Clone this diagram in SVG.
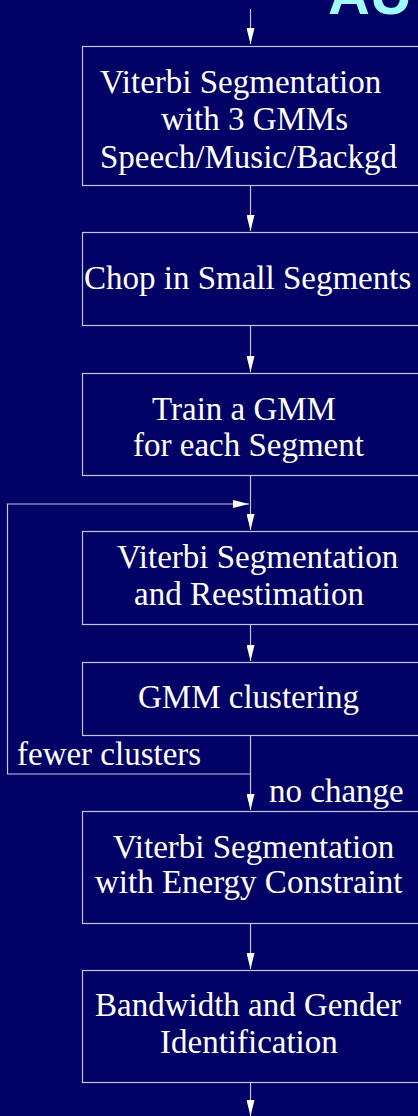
<svg xmlns="http://www.w3.org/2000/svg" width="418" height="1116" viewBox="0 0 418 1116">
  <style>
    .box { fill: none; stroke: #c4c4e4; stroke-width: 1.2; }
    .lbl { fill: #ffffff; font-family: "Times New Roman", "Liberation Serif", Times, "DejaVu Serif", serif; font-size: 33px; }
    .wire { fill: none; stroke: #c4c4e4; stroke-width: 1.2; }
    .title { fill: #a0fcff; font-family: "Liberation Sans", Arial, sans-serif; font-weight: bold; font-size: 58px; }
  </style>
  <defs>
    <marker id="head" viewBox="0 0 16 8" refX="16" refY="4" markerWidth="16" markerHeight="8" markerUnits="userSpaceOnUse" orient="auto">
      <path d="M0,0 L16,4 L0,8 Z" fill="#ffffff"/>
    </marker>
  </defs>

  <rect width="418" height="1116" fill="#020266"/>

  <text class="title" x="328" y="14">AU</text>

  <g id="connectors">
    <line class="wire" x1="250.5" y1="9" x2="250.5" y2="44" marker-end="url(#head)"/>
    <line class="wire" x1="250.5" y1="186" x2="250.5" y2="231" marker-end="url(#head)"/>
    <line class="wire" x1="250.5" y1="326" x2="250.5" y2="372" marker-end="url(#head)"/>
    <line class="wire" x1="250.5" y1="476" x2="250.5" y2="530" marker-end="url(#head)"/>
    <line class="wire" x1="250.5" y1="625" x2="250.5" y2="661" marker-end="url(#head)"/>
    <line class="wire" x1="250.5" y1="736" x2="250.5" y2="810" marker-end="url(#head)"/>
    <line class="wire" x1="250.5" y1="924" x2="250.5" y2="969" marker-end="url(#head)"/>
    <line class="wire" x1="250.5" y1="1083" x2="250.5" y2="1116" marker-end="url(#head)"/>
    <!-- loop back for another clustering pass -->
    <polyline class="wire" points="250.5,774 7.5,774 7.5,504 249,504" marker-end="url(#head)"/>
    <text class="lbl" x="17" y="765">fewer clusters</text>
    <text class="lbl" x="269" y="802">no change</text>
  </g>

  <g id="viterbi-gmm3">
    <rect class="box" x="82.5" y="46.5" width="345" height="139"/>
    <text class="lbl" x="100" y="93">Viterbi Segmentation</text>
    <text class="lbl" x="161" y="130">with 3 GMMs</text>
    <text class="lbl" x="100" y="168">Speech/Music/Backgd</text>
  </g>

  <g id="chop">
    <rect class="box" x="82.5" y="232.5" width="345" height="93"/>
    <text class="lbl" x="84" y="289">Chop in Small Segments</text>
  </g>

  <g id="train-gmm">
    <rect class="box" x="82.5" y="373.5" width="345" height="102"/>
    <text class="lbl" x="152" y="420">Train a GMM</text>
    <text class="lbl" x="133" y="456">for each Segment</text>
  </g>

  <g id="viterbi-reestimation">
    <rect class="box" x="82.5" y="531.5" width="345" height="93"/>
    <text class="lbl" x="117" y="568">Viterbi Segmentation</text>
    <text class="lbl" x="134" y="605">and Reestimation</text>
  </g>

  <g id="gmm-clustering">
    <rect class="box" x="82.5" y="662.5" width="345" height="73"/>
    <text class="lbl" x="138" y="708">GMM clustering</text>
  </g>

  <g id="viterbi-energy">
    <rect class="box" x="82.5" y="811.5" width="345" height="112"/>
    <text class="lbl" x="113" y="858">Viterbi Segmentation</text>
    <text class="lbl" x="95" y="893">with Energy Constraint</text>
  </g>

  <g id="bandwidth-gender">
    <rect class="box" x="82.5" y="970.5" width="345" height="112"/>
    <text class="lbl" x="95" y="1016">Bandwidth and Gender</text>
    <text class="lbl" x="160" y="1053">Identification</text>
  </g>
</svg>
